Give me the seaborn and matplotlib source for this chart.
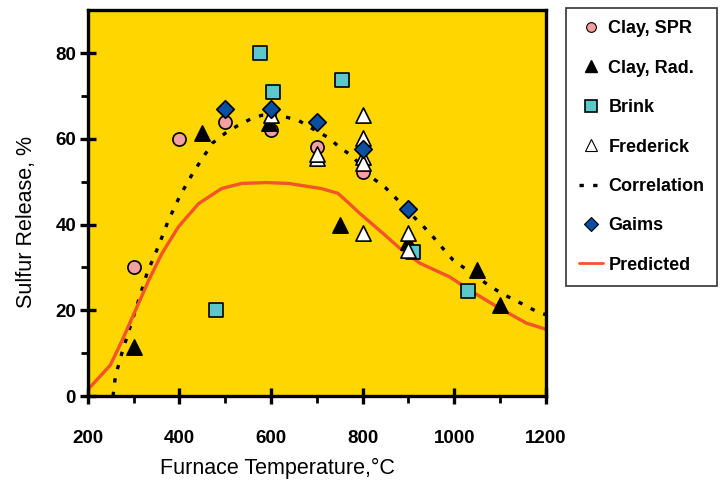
import pandas as pd
import matplotlib
matplotlib.use("Agg")
import matplotlib.pyplot as plt
import seaborn as sns
from matplotlib.lines import Line2D

sns.set_theme(style="white")
plt.rcParams["font.family"] = ["Liberation Sans", "DejaVu Sans"]
plt.rcParams["text.color"] = "black"
plt.rcParams["axes.labelcolor"] = "black"
plt.rcParams["xtick.color"] = "black"
plt.rcParams["ytick.color"] = "black"

# Measured sulfur release by source (temperature in °C, release in %)
clay_spr_t = [300, 400, 500, 600, 700, 800]
clay_spr_s = [30, 60, 64, 62, 58, 52.2]

clay_rad_t = [300, 450, 595, 750, 900, 1050, 1100]
clay_rad_s = [11.4, 61.3, 63.7, 40, 36, 29.4, 21.2]

brink_t = [575, 605, 755, 480, 910, 1030]
brink_s = [80, 71, 73.7, 20, 33.6, 24.5]

frederick_t = [600, 700, 700, 800, 800, 800, 800, 800, 900, 900]
frederick_s = [65.5, 55.5, 56.5, 65.5, 60.2, 55.8, 54.3, 38, 38, 34]

gaims_t = [500, 600, 700, 800, 900]
gaims_s = [67, 67, 64, 57.6, 43.6]

# Correlation curve
corr_t = [255, 260, 275, 304, 329, 355, 376, 402, 431, 472, 500, 526, 555,
          580, 610, 635, 660, 680, 725, 750, 777, 820, 850, 877, 900, 929,
          951, 975, 997, 1023, 1050, 1073, 1103, 1128, 1158, 1182, 1200]
corr_s = [0, 4.5, 10.3, 20, 28.6, 35.2, 41, 46.9, 52.3, 59, 61.3, 63, 64.6,
          65.5, 65.5, 65, 64.3, 63, 60.3, 58, 56, 51, 48.6, 45.7, 43, 40,
          37.5, 34.5, 31.8, 29.8, 27.8, 26, 24, 22.6, 21, 19.6, 19]

# Model prediction
pred_t = [200, 249, 275, 304, 333, 362, 398, 442, 492, 536, 590, 638, 710,
          746, 768, 794, 844, 881, 925, 990, 1040, 1099, 1158, 1200]
pred_s = [1.5, 7.2, 13, 20, 27, 33.3, 39.5, 44.9, 48.4, 49.6, 49.8, 49.6,
          48.4, 47.3, 45.2, 42.6, 38, 34.5, 31, 27.8, 24.3, 20.5, 17, 15.6]

x_ticks = [200, 400, 600, 800, 1000, 1200]
x_minor = [300, 500, 700, 900, 1100]
y_ticks = [0, 20, 40, 60, 80]
y_minor = [10, 30, 50, 70]

BG = "#FFD600"
PINK = "#F4A0A0"
CYAN = "#5CC8CC"
BLUE = "#0A50A0"
RED = "#F4542A"

fig = plt.figure(figsize=(7.2, 4.86), dpi=100)
ax = fig.add_axes([0.122, 0.185, 0.636, 0.794])
ax.set_facecolor(BG)

corr = pd.DataFrame({"t": corr_t, "s": corr_s})
pred = pd.DataFrame({"t": pred_t, "s": pred_s})

sns.lineplot(data=corr, x="t", y="s", ax=ax, color="black", lw=2.4,
             sort=False, zorder=2)
ax.lines[-1].set_dashes((1.3, 2.8))
sns.lineplot(data=pred, x="t", y="s", ax=ax, color=RED, lw=2.4,
             sort=False, zorder=2)

series = [
    ("Clay, SPR", clay_spr_t, clay_spr_s, "o", PINK, 90),
    ("Clay, Rad.", clay_rad_t, clay_rad_s, "^", "black", 120),
    ("Brink", brink_t, brink_s, "s", CYAN, 90),
    ("Frederick", frederick_t, frederick_s, "^", "white", 120),
    ("Gaims", gaims_t, gaims_s, "D", BLUE, 80),
]
for i, (name, t, s, m, c, size) in enumerate(series):
    df = pd.DataFrame({"t": t, "s": s})
    sns.scatterplot(data=df, x="t", y="s", ax=ax, marker=m, color=c, s=size,
                    edgecolor="black", linewidth=1.2, zorder=3 + i)

ax.set_xlim(200, 1200)
ax.set_ylim(0, 90)
ax.set_xticks(x_ticks)
ax.set_yticks(y_ticks)
ax.set_xticks(x_minor, minor=True)
ax.set_yticks(y_minor, minor=True)
ax.tick_params(axis="both", which="major", direction="inout", length=11,
               width=2.4, labelsize=13.5)
ax.tick_params(axis="x", which="major", pad=19)
ax.tick_params(axis="y", which="major", pad=3)
ax.tick_params(axis="both", which="minor", direction="out", length=5,
               width=2.0)
ax.tick_params(left=True, bottom=True, which="both")
for lab in ax.get_xticklabels() + ax.get_yticklabels():
    lab.set_fontweight("bold")
for sp in ax.spines.values():
    sp.set_visible(True)
    sp.set_color("black")
    sp.set_linewidth(2.4)

ax.set_xlabel("Furnace Temperature,\u00b0C", fontsize=15.5)
ax.set_ylabel("Sulfur Release, %", fontsize=15.5)
ax.xaxis.set_label_coords(0.415, -0.16)
ax.yaxis.set_label_coords(-0.11, 0.45)

handles = [
    Line2D([], [], ls="none", marker="o", mfc=PINK, mec="black", ms=7, mew=0.8),
    Line2D([], [], ls="none", marker="^", mfc="black", mec="black", ms=8),
    Line2D([], [], ls="none", marker="s", mfc=CYAN, mec="black", ms=8, mew=1.2),
    Line2D([], [], ls="none", marker="^", mfc="white", mec="black", ms=8, mew=0.8),
    Line2D([], [], color="black", lw=2.4, dashes=(1.3, 2.8)),
    Line2D([], [], ls="none", marker="D", mfc=BLUE, mec="black", ms=7, mew=0.8),
    Line2D([], [], color=RED, lw=2.0),
]
labels = ["Clay, SPR", "Clay, Rad.", "Brink", "Frederick", "Correlation",
          "Gaims", "Predicted"]
leg = fig.legend(handles, labels, loc="upper left",
                 bbox_to_anchor=(0.786, 0.984), borderaxespad=0,
                 frameon=True, fancybox=False,
                 edgecolor="black", facecolor="white", borderpad=0.7,
                 labelspacing=1.24, handlelength=1.35, handletextpad=0.3,
                 prop={"weight": "bold", "size": 13})
leg.get_frame().set_linewidth(1.2)

fig.savefig("out.png", dpi=100, facecolor="white")
